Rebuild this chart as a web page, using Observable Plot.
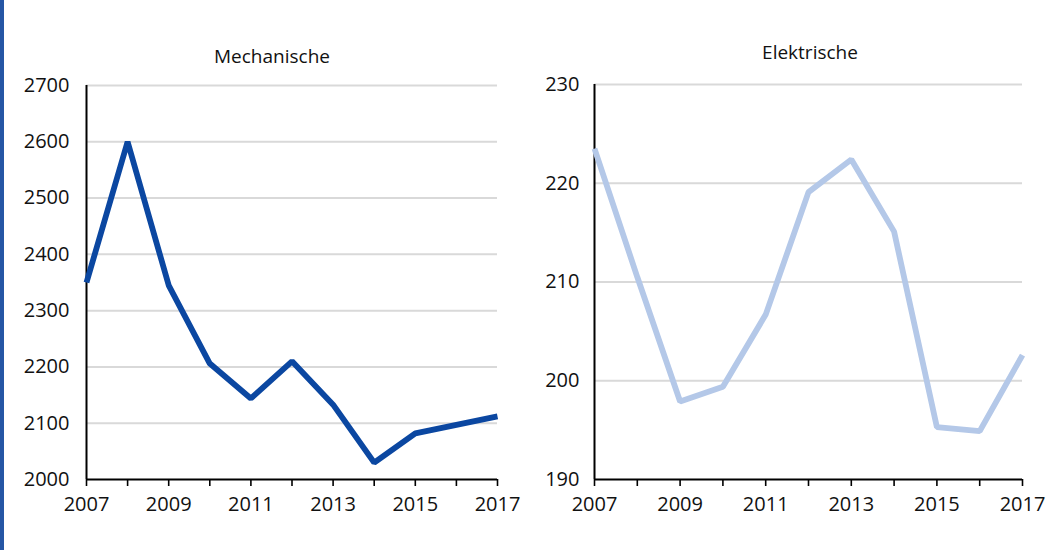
<!DOCTYPE html>
<html>
<head>
<meta charset="utf-8">
<script src="https://cdn.jsdelivr.net/npm/d3@7"></script>
<script src="https://cdn.jsdelivr.net/npm/@observablehq/plot@0.6"></script>
<style>
  html, body { margin: 0; padding: 0; background: #fff; }
  #wrap { position: relative; width: 1049px; height: 550px; overflow: hidden; font-family: "Open Sans", sans-serif; }
  #bar { position: absolute; left: 0; top: 0; width: 4px; height: 550px; background: #2556a5; }
  .panel { position: absolute; top: 0; }
  .ptitle { position: absolute; font-size: 19px; color: #111; white-space: nowrap; transform: translateX(-50%); }
</style>
</head>
<body>
<div id="wrap">
  <div id="bar"></div>
  <div class="ptitle" id="t1" style="left:272px; top:43px;"></div>
  <div class="ptitle" id="t2" style="left:810px; top:39px;"></div>
  <div class="panel" id="p1" style="left:0px;"></div>
  <div class="panel" id="p2" style="left:520px;"></div>
</div>
<script>
const years = [2007, 2008, 2009, 2010, 2011, 2012, 2013, 2014, 2015, 2016, 2017];
const mechanische = [2350, 2600, 2345, 2206, 2144, 2210, 2133, 2030, 2082, 2097, 2112];
const elektrische = [223.5, 210.5, 197.9, 199.4, 206.7, 219.1, 222.4, 215.1, 195.3, 194.9, 202.6];
const titles = ["Mechanische", "Elektrische"];
const mechTicks = [2000, 2100, 2200, 2300, 2400, 2500, 2600, 2700];
const elekTicks = [190, 200, 210, 220, 230];
const colors = ["#0b47a1", "#b4c8e8"];

document.getElementById("t1").textContent = titles[0];
document.getElementById("t2").textContent = titles[1];

function panel(values, yTicks, color, opts) {
  const data = years.map((y, i) => ({year: y, value: values[i]}));
  const yMin = yTicks[0], yMax = yTicks[yTicks.length - 1];
  return Plot.plot({
    width: opts.width,
    height: 550,
    marginLeft: opts.marginLeft,
    marginRight: opts.marginRight,
    marginTop: opts.marginTop,
    marginBottom: 71,
    style: {fontFamily: "Open Sans, sans-serif", fontSize: "20px", color: "#111", background: "transparent", overflow: "visible"},
    x: {domain: [2007, 2017], axis: null},
    y: {domain: [yMin, yMax], axis: null},
    marks: [
      Plot.gridY(yTicks.filter(t => t !== yMin), {stroke: "#d9d9d9", strokeOpacity: 1, strokeWidth: 2}),
      Plot.axisY(yTicks, {tickSize: 0, tickPadding: opts.yPad, tickFormat: d => String(d), fontSize: 20, label: null}),
      Plot.axisX(years, {tickSize: 7, tickPadding: 10, tickFormat: d => (d % 2 ? String(d) : ""), fontSize: 20, label: null, stroke: "#000", strokeWidth: 1.6}),
      Plot.ruleY([yMin], {stroke: "#000", strokeWidth: 2}),
      Plot.ruleX([2007], {stroke: "#000", strokeWidth: 2}),
      Plot.line(data, {x: "year", y: "value", stroke: color, strokeWidth: 5.8, strokeLinejoin: "miter", strokeLinecap: "butt"})
    ]
  });
}

document.getElementById("p1").appendChild(
  panel(mechanische, mechTicks, colors[0], {width: 520, marginLeft: 86, marginRight: 23, marginTop: 85, yPad: 17})
);
document.getElementById("p2").appendChild(
  panel(elektrische, elekTicks, colors[1], {width: 529, marginLeft: 74, marginRight: 27, marginTop: 84, yPad: 15})
);
</script>
</body>
</html>
